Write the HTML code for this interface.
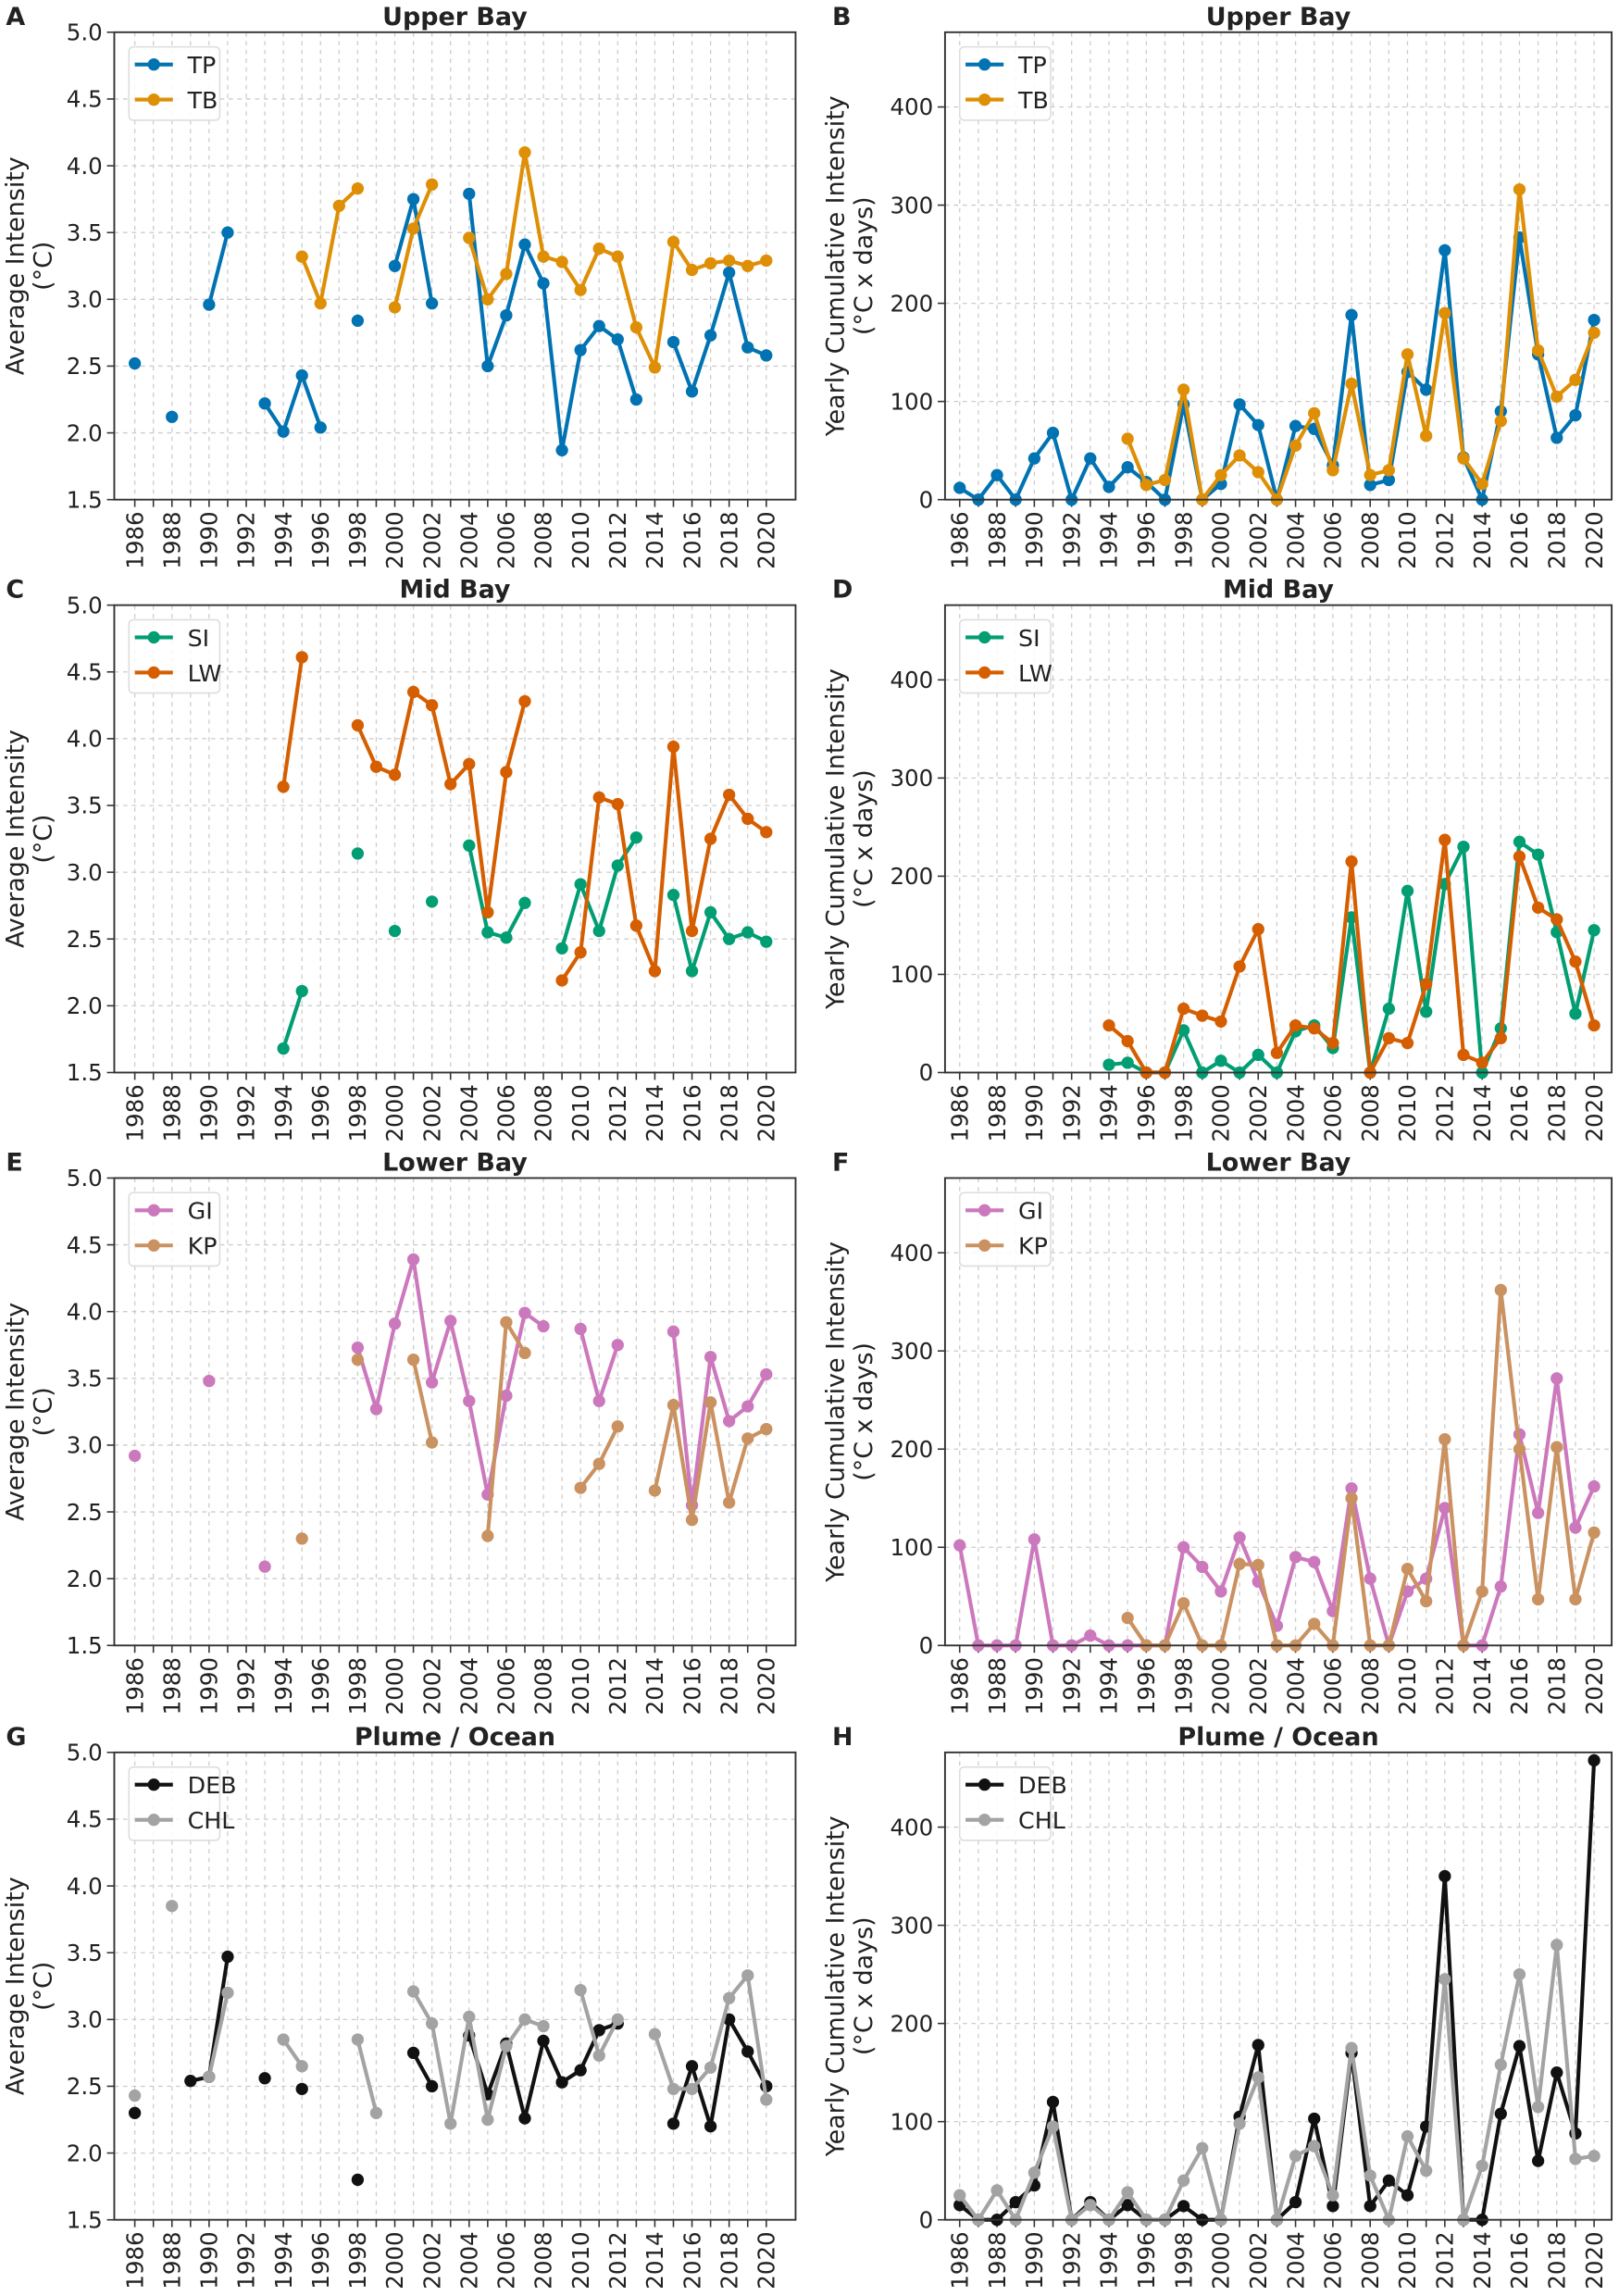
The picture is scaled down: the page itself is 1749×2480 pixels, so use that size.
<!DOCTYPE html>
<html><head><meta charset="utf-8"><style>
html,body{margin:0;padding:0;background:#fff}
svg{display:block}
text{font-family:"DejaVu Sans","Liberation Sans",sans-serif;fill:#222}
</style></head><body>
<svg id="s" width="1749" height="2480" viewBox="0 0 1105 1567" preserveAspectRatio="none" xmlns="http://www.w3.org/2000/svg"></svg>
<script>
const S=document.getElementById('s');let h='';
const C={TP:'#0173b2',TB:'#de8f05',SI:'#029e73',LW:'#d55e00',GI:'#cc78bc',KP:'#ca9161',DEB:'#111111',CHL:'#a3a3a3'};
const tops=[22,413,804,1196],H=319;
function seq(start,arr){return arr.map((v,i)=>[start+i,v]);}
const panels=[
{row:0,side:0,L:'A',t:'Upper Bay',s:[['TP',[[[1986,2.52]],[[1988,2.12]],[[1990,2.96],[1991,3.5]],[[1993,2.22],[1994,2.01],[1995,2.43],[1996,2.04]],[[1998,2.84]],[[2000,3.25],[2001,3.75],[2002,2.97]],[[2004,3.79],[2005,2.5],[2006,2.88],[2007,3.41],[2008,3.12],[2009,1.87],[2010,2.62],[2011,2.8],[2012,2.7],[2013,2.25]],[[2015,2.68],[2016,2.31],[2017,2.73],[2018,3.2],[2019,2.64],[2020,2.58]]]],
['TB',[[[1995,3.32],[1996,2.97],[1997,3.7],[1998,3.83]],[[2000,2.94],[2001,3.53],[2002,3.86]],[[2004,3.46],[2005,3.0],[2006,3.19],[2007,4.1],[2008,3.32],[2009,3.28],[2010,3.07],[2011,3.38],[2012,3.32],[2013,2.79],[2014,2.49],[2015,3.43],[2016,3.22],[2017,3.27],[2018,3.29],[2019,3.25],[2020,3.29]]]]]},
{row:0,side:1,L:'B',t:'Upper Bay',s:[['TP',[seq(1986,[12,0,25,0,42,68,0,42,13,33,18,0,97,0,16,97,76,0,75,72,35,188,15,20,130,112,254,43,0,90,267,148,63,86,183])]],['TB',[seq(1995,[62,15,20,112,0,25,45,28,0,55,88,30,118,25,30,148,65,190,42,16,80,316,152,105,122,170])]]]},
{row:1,side:0,L:'C',t:'Mid Bay',s:[['SI',[[[1994,1.68],[1995,2.11]],[[1998,3.14]],[[2000,2.56]],[[2002,2.78]],[[2004,3.2],[2005,2.55],[2006,2.51],[2007,2.77]],[[2009,2.43],[2010,2.91],[2011,2.56],[2012,3.05],[2013,3.26]],[[2015,2.83],[2016,2.26],[2017,2.7],[2018,2.5],[2019,2.55],[2020,2.48]]]],
['LW',[[[1994,3.64],[1995,4.61]],[[1998,4.1],[1999,3.79],[2000,3.73],[2001,4.35],[2002,4.25],[2003,3.66],[2004,3.81],[2005,2.7],[2006,3.75],[2007,4.28]],[[2009,2.19],[2010,2.4],[2011,3.56],[2012,3.51],[2013,2.6],[2014,2.26],[2015,3.94],[2016,2.56],[2017,3.25],[2018,3.58],[2019,3.4],[2020,3.3]]]]]},
{row:1,side:1,L:'D',t:'Mid Bay',s:[['SI',[seq(1994,[8,10,0,0,43,0,12,0,18,0,42,48,25,158,0,65,185,62,192,230,0,45,235,222,143,60,145])]],['LW',[seq(1994,[48,32,0,0,65,58,52,108,146,20,48,45,30,215,0,35,30,90,237,18,10,35,220,168,156,113,48])]]]},
{row:2,side:0,L:'E',t:'Lower Bay',s:[['GI',[[[1986,2.92]],[[1990,3.48]],[[1993,2.09]],[[1998,3.73],[1999,3.27],[2000,3.91],[2001,4.39],[2002,3.47],[2003,3.93],[2004,3.33],[2005,2.63],[2006,3.37],[2007,3.99],[2008,3.89]],[[2010,3.87],[2011,3.33],[2012,3.75]],[[2015,3.85],[2016,2.55],[2017,3.66],[2018,3.18],[2019,3.29],[2020,3.53]]]],
['KP',[[[1995,2.3]],[[1998,3.64]],[[2001,3.64],[2002,3.02]],[[2005,2.32],[2006,3.92],[2007,3.69]],[[2010,2.68],[2011,2.86],[2012,3.14]],[[2014,2.66],[2015,3.3],[2016,2.44],[2017,3.32],[2018,2.57],[2019,3.05],[2020,3.12]]]]]},
{row:2,side:1,L:'F',t:'Lower Bay',s:[['GI',[seq(1986,[102,0,0,0,108,0,0,10,0,0,0,0,100,80,55,110,65,20,90,85,35,160,68,0,55,68,140,0,0,60,215,135,272,120,162])]],['KP',[seq(1995,[28,0,0,43,0,0,83,82,0,0,22,0,150,0,0,78,45,210,0,55,362,200,47,202,47,115])]]]},
{row:3,side:0,L:'G',t:'Plume / Ocean',s:[['DEB',[[[1986,2.3]],[[1989,2.54],[1990,2.57],[1991,3.47]],[[1993,2.56]],[[1995,2.48]],[[1998,1.8]],[[2001,2.75],[2002,2.5]],[[2004,2.88],[2005,2.44],[2006,2.82],[2007,2.26],[2008,2.84],[2009,2.53],[2010,2.62],[2011,2.92],[2012,2.97]],[[2015,2.22],[2016,2.65],[2017,2.2],[2018,3.0],[2019,2.76],[2020,2.5]]]],
['CHL',[[[1986,2.43]],[[1988,3.85]],[[1990,2.57],[1991,3.2]],[[1994,2.85],[1995,2.65]],[[1998,2.85],[1999,2.3]],[[2001,3.21],[2002,2.97],[2003,2.22],[2004,3.02],[2005,2.25],[2006,2.8],[2007,3.0],[2008,2.95]],[[2010,3.22],[2011,2.73],[2012,3.0]],[[2014,2.89],[2015,2.48],[2016,2.48],[2017,2.64],[2018,3.16],[2019,3.33],[2020,2.4]]]]]},
{row:3,side:1,L:'H',t:'Plume / Ocean',s:[['DEB',[seq(1986,[15,0,0,18,35,120,0,18,0,15,0,0,14,0,0,105,178,0,18,103,14,170,14,40,25,95,350,0,0,108,177,60,150,88,468])]],['CHL',[seq(1986,[25,0,30,0,48,95,0,15,0,28,0,0,40,73,0,98,145,0,65,75,25,175,45,0,85,50,245,0,55,158,250,115,280,62,65])]]]}
];
panels.forEach(p=>{
 const top=tops[p.row],bot=top+H;
 const x0=p.side?645:78,x1=p.side?1100:543,xa=p.side?655:92,xb=p.side?1088:523;
 const X=y=>xa+(y-1986)*(xb-xa)/34;
 const Y=p.side?(v=>bot-v*0.67):(v=>bot-(v-1.5)*(H/3.5));
 // grid
 for(let y=1986;y<=2020;y++)h+=`<line x1="${X(y)}" x2="${X(y)}" y1="${top}" y2="${bot}" stroke="#ccc" stroke-width="0.8" stroke-dasharray="3,3"/>`;
 const ticks=p.side?[0,100,200,300,400]:[1.5,2,2.5,3,3.5,4,4.5,5];
 ticks.forEach(v=>{const yy=Y(v);h+=`<line x1="${x0}" x2="${x1}" y1="${yy}" y2="${yy}" stroke="#ccc" stroke-width="0.8" stroke-dasharray="3,3"/><line x1="${x0-5}" x2="${x0}" y1="${yy}" y2="${yy}" stroke="#333"/><text x="${x0-8}" y="${yy+5.5}" font-size="15.5" text-anchor="end">${p.side?v:v.toFixed(1)}</text>`;});
 for(let y=1986;y<=2020;y++){h+=`<line x1="${X(y)}" x2="${X(y)}" y1="${bot}" y2="${bot+5}" stroke="#333"/>`;if(y%2==0)h+=`<text transform="translate(${X(y)+5.5},${bot+8}) rotate(-90)" font-size="15.5" text-anchor="end">${y}</text>`;}
 // series
 p.s.forEach(([n,segs])=>{segs.forEach(sg=>{if(sg.length>1)h+=`<polyline fill="none" stroke="${C[n]}" stroke-width="2.6" stroke-linejoin="round" points="${sg.map(q=>X(q[0])+','+Y(q[1])).join(' ')}"/>`;sg.forEach(q=>h+=`<circle cx="${X(q[0])}" cy="${Y(q[1])}" r="4.2" fill="${C[n]}"/>`);});});
 h+=`<rect x="${x0}" y="${top}" width="${x1-x0}" height="${H}" fill="none" stroke="#333" stroke-width="1.2"/>`;
 // legend
 const lx=x0+10,ly=top+10;
 h+=`<rect x="${lx}" y="${ly}" width="62" height="50" rx="3" fill="#fff" fill-opacity="0.85" stroke="#ddd"/>`;
 p.s.forEach(([n],i)=>{const yy=ly+12+i*24;h+=`<line x1="${lx+4}" x2="${lx+30}" y1="${yy}" y2="${yy}" stroke="${C[n]}" stroke-width="2.6"/><circle cx="${lx+17}" cy="${yy}" r="4.2" fill="${C[n]}"/><text x="${lx+40}" y="${yy+6}" font-size="16">${n}</text>`;});
 // titles
 h+=`<text x="${(x0+x1)/2}" y="${top-5}" font-size="17" font-weight="bold" text-anchor="middle">${p.t}</text>`;
 h+=`<text x="4" y="${top-5}" font-size="17" font-weight="bold">${p.L}</text>`.replace('x="4"',`x="${p.side?568:4}"`);
 const cy=(top+bot)/2,lxx=p.side?576:16;
 const l1=p.side?'Yearly Cumulative Intensity':'Average Intensity',l2=p.side?'(°C x days)':'(°C)';
 h+=`<text transform="translate(${lxx},${cy}) rotate(-90)" font-size="17" text-anchor="middle">${l1}</text><text transform="translate(${lxx+19},${cy}) rotate(-90)" font-size="17" text-anchor="middle">${l2}</text>`;
});
S.innerHTML=h;
</script>
</body></html>
